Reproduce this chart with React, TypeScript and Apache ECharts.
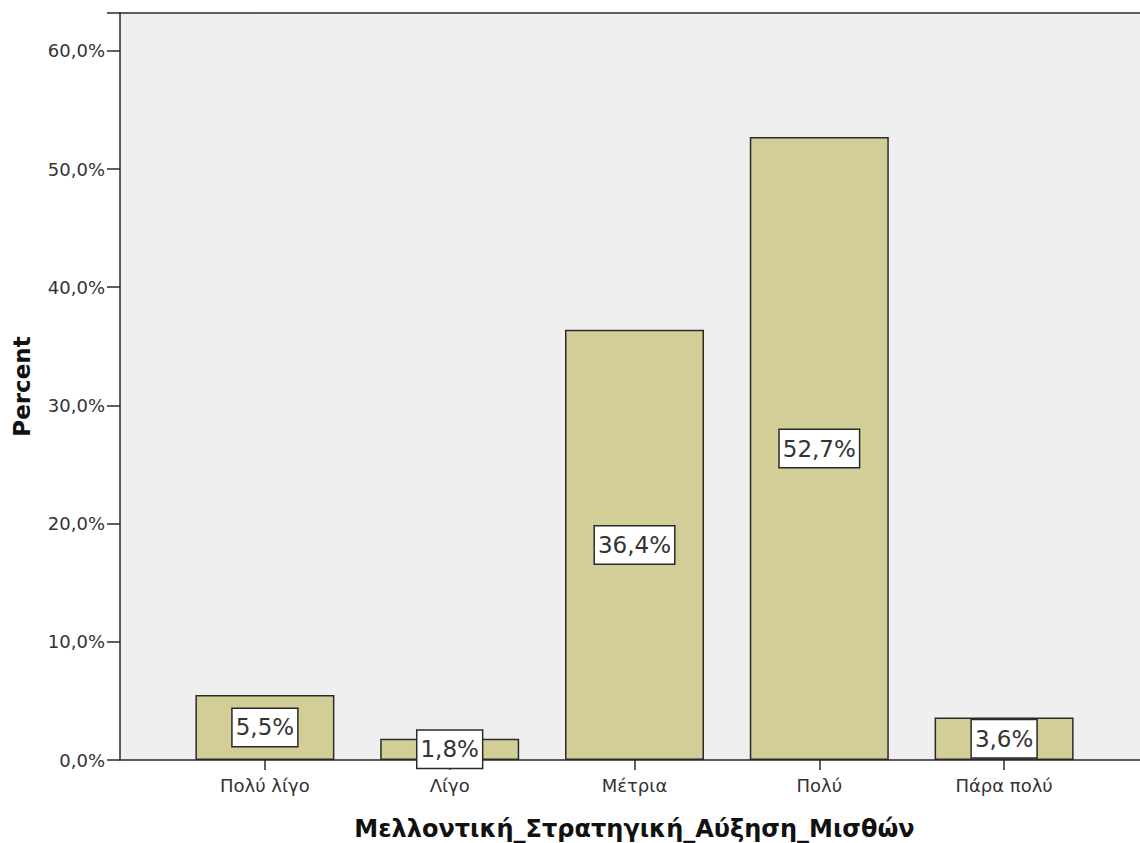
import React, { useEffect, useRef } from "react";
import * as echarts from "echarts";

const categories = ["Πολύ λίγο", "Λίγο", "Μέτρια", "Πολύ", "Πάρα πολύ"];
const percentValues = [5.5, 1.8, 36.4, 52.7, 3.6];
const yTicks = [0, 10, 20, 30, 40, 50, 60];
const xTitle = "Μελλοντική_Στρατηγική_Αύξηση_Μισθών";
const yTitle = "Percent";

const fmt = (v: number) => v.toFixed(1).replace(".", ",") + "%";

export default function App() {
  const ref = useRef<HTMLDivElement>(null);
  useEffect(() => {
    if (!ref.current) return;
    const chart = echarts.init(ref.current, undefined, { renderer: "svg" });
    const font = "DejaVu Sans";
    const yMax = 63.2;
    chart.setOption({
      animation: false,
      backgroundColor: "#ffffff",
      grid: [
        { left: 120, right: 0, top: 13, bottom: 83, show: true, backgroundColor: "#efefef", borderWidth: 0, containLabel: false, outerBoundsMode: "none" },
        { left: 172.5, right: 43.5, top: 13, bottom: 83, containLabel: false, outerBoundsMode: "none" },
      ],
      xAxis: [
        {
          gridIndex: 0, type: "value", min: 0, max: 1, position: "bottom",
          axisLine: { show: true, onZero: false, lineStyle: { color: "#2a2a2a", width: 1.5 } },
          axisTick: { show: false }, axisLabel: { show: false }, splitLine: { show: false },
        },
        {
          gridIndex: 0, type: "value", min: 0, max: 1, position: "top",
          axisLine: { show: true, onZero: false, lineStyle: { color: "#2a2a2a", width: 1.5 } },
          axisTick: { show: false }, axisLabel: { show: false }, splitLine: { show: false },
        },
        {
          gridIndex: 1, type: "category", data: categories,
          axisLine: { show: false },
          axisTick: { show: true, alignWithLabel: true, length: 10, lineStyle: { color: "#2a2a2a", width: 1.5 } },
          axisLabel: { color: "#333", fontFamily: font, fontSize: 18, margin: 16 },
          name: xTitle, nameLocation: "middle", nameGap: 57,
          nameTextStyle: { fontFamily: font, fontWeight: "bold", fontSize: 24, color: "#111" },
        },
      ],
      yAxis: [
        {
          gridIndex: 0, type: "value", min: 0, max: yMax, interval: 10,
          axisLine: { show: true, lineStyle: { color: "#2a2a2a", width: 1.5 } },
          axisTick: { show: true, length: 13, lineStyle: { color: "#2a2a2a", width: 1.5 } },
          axisLabel: {
            color: "#333", fontFamily: font, fontSize: 18, margin: 15,
            formatter: (v: number) => (yTicks.includes(v) ? fmt(v) : ""),
          },
          splitLine: { show: false },
          name: yTitle, nameLocation: "middle", nameGap: 87, nameRotate: 90,
          nameTextStyle: { fontFamily: font, fontWeight: "bold", fontSize: 23, color: "#111" },
        },
        {
          gridIndex: 1, type: "value", min: 0, max: yMax, show: false,
        },
      ],
      series: [
        {
          type: "bar",
          xAxisIndex: 2,
          yAxisIndex: 1,
          data: percentValues,
          barWidth: 139,
          itemStyle: { color: "#d3ce98", borderColor: "#2a2a2a", borderWidth: 1.5 },
          label: {
            show: true,
            position: "inside",
            formatter: (p: any) => fmt(p.value),
            fontFamily: font,
            fontSize: 23,
            color: "#333",
            backgroundColor: "#ffffff",
            borderColor: "#2a2a2a",
            borderWidth: 1.5,
            padding: [8, 3, 6, 3],
          },
        },
      ],
    });
    return () => chart.dispose();
  }, []);
  return <div ref={ref} style={{ width: 1140, height: 843, position: "absolute", left: 0, top: 0 }} />;
}
